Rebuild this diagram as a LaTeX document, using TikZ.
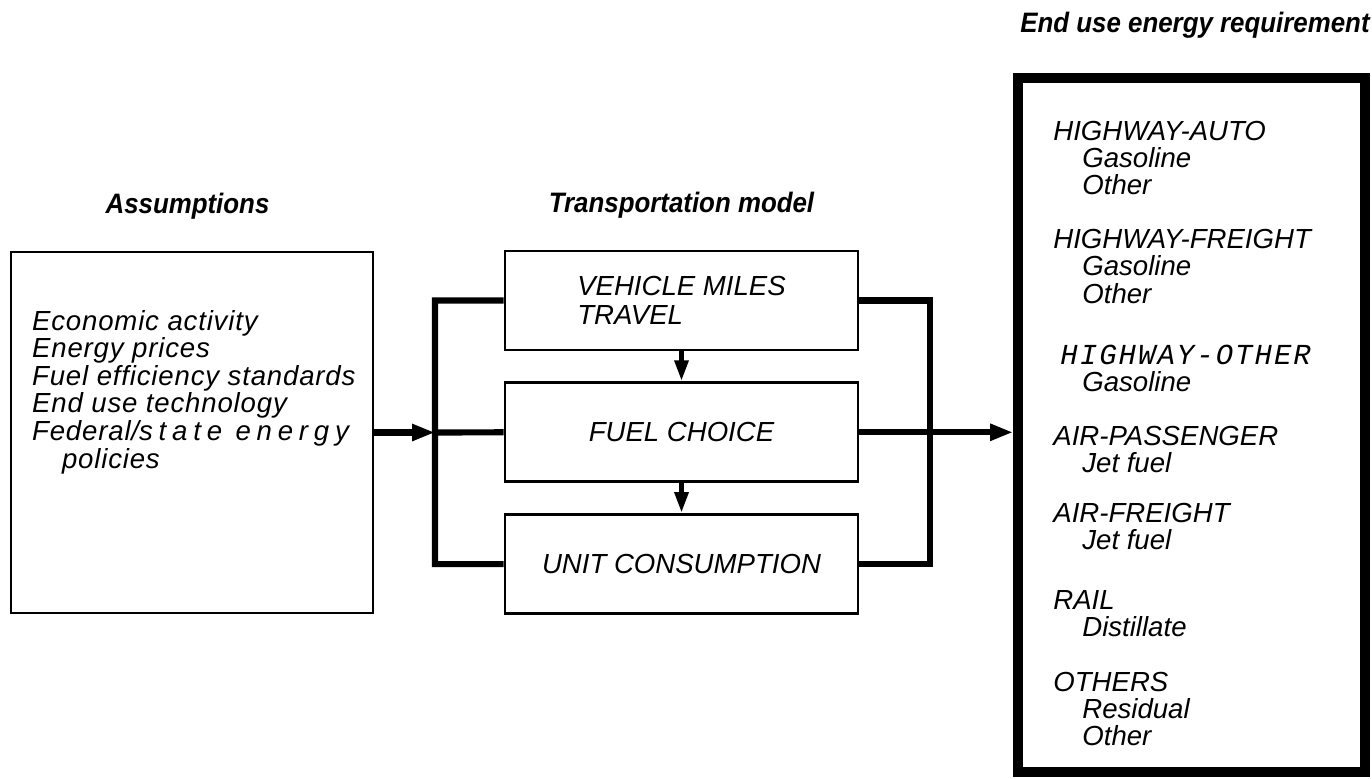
\documentclass[tikz,border=0pt]{standalone}
\usepackage{fontspec}
\setmainfont{Liberation Sans}
\newfontfamily\headfont[FakeStretch=0.92]{Liberation Sans}
\newfontfamily\spacedfont[LetterSpace=3]{Liberation Sans}
\newfontfamily\typefont[LetterSpace=7]{Liberation Mono}
\usetikzlibrary{arrows.meta, positioning}
\newcommand{\fuelitem}[1]{\hspace*{16.5pt}#1}

\begin{document}
\begin{tikzpicture}[
    x=0.02cm, y=-0.02cm,
    heading/.style={
        font=\headfont\bfseries\itshape\fontsize{16}{19}\selectfont,
        inner sep=0pt,
        anchor=base
    },
    box/.style={
        rectangle,
        draw,
        line width=1.6pt,
        minimum width=7.06cm,
        minimum height=1.98cm,
        align=left,
        font=\itshape\fontsize{15.7}{16.5}\selectfont
    },
    inputbox/.style={rectangle, draw, line width=1.4pt, minimum width=7.24cm, minimum height=7.22cm},
    outputbox/.style={rectangle, draw, line width=5.7pt, minimum width=6.94cm, minimum height=13.88cm},
    listing/.style={inner sep=0pt, align=left, font=\itshape\fontsize{15.7}{15.4}\selectfont},
    bus/.style={line width=3.5pt},
    arrow/.style={-{Triangle[length=13pt,width=9pt]}, line width=3.5pt},
    drop/.style={-{Triangle[length=12pt,width=7.5pt]}, line width=3pt}
]
\useasboundingbox (0,0) rectangle (1372,778);

% assumptions
\node[inputbox] (assume) at (192,432.5) {};
\node[listing, font=\spacedfont\itshape\fontsize{15.7}{15.7}\selectfont, below right=1.18cm and 0.44cm of assume.north west] (drivers) {Economic activity\\Energy prices\\Fuel efficiency standards\\End use technology\\Federal/{\addfontfeature{LetterSpace=21}state energy}\\\hspace*{17pt}policies};
\node[heading] (assumetitle) at (187.5,213) {Assumptions};

% transportation model
\node[box] (vmt) at (681.5,300.5) {VEHICLE MILES\\TRAVEL};
\node[box, below=0.6cm of vmt] (fuel) {FUEL CHOICE};
\node[box, below=0.6cm of fuel] (unit) {UNIT CONSUMPTION};
\node[heading] (modeltitle) at (681.5,212) {Transportation model};

% end use
\node[outputbox] (enduse) at (1191.5,425) {};
\node[listing, below right=0.96cm and 0.8cm of enduse.north west] (uses) {HIGHWAY-AUTO\\
\fuelitem{Gasoline}\\
\fuelitem{Other}\\[15.4pt]
HIGHWAY-FREIGHT\\
\fuelitem{Gasoline}\\
\fuelitem{Other}\\[19.5pt]
\hspace*{4pt}{\typefont\fontsize{16.5}{15.4}\selectfont HIGHWAY-OTHER}\\[0pt]
\fuelitem{Gasoline}\\[15.2pt]
AIR-PASSENGER\\
\fuelitem{Jet fuel}\\[13.1pt]
AIR-FREIGHT\\
\fuelitem{Jet fuel}\\[18.8pt]
RAIL\\
\fuelitem{Distillate}\\[15.9pt]
OTHERS\\
\fuelitem{Residual}\\
\fuelitem{Other}};
\node[heading, anchor=base east] (usetitle) at (1370,32) {End use energy requirement};

\coordinate (lbus) at (435,432.5);
\coordinate (rbus) at (930,432.5);

\draw[bus] (vmt.west) -| (lbus) |- (unit.west) (lbus) -- (fuel.west);
\draw[arrow] (assume.east) -- (lbus);
\draw[bus] (vmt.east) -| (rbus) |- (unit.east);
\draw[arrow] (fuel.east) -- (fuel.east -| enduse.west);
\draw[drop] (vmt) -- (fuel);
\draw[drop] (fuel) -- (unit);

\end{tikzpicture}
\end{document}
